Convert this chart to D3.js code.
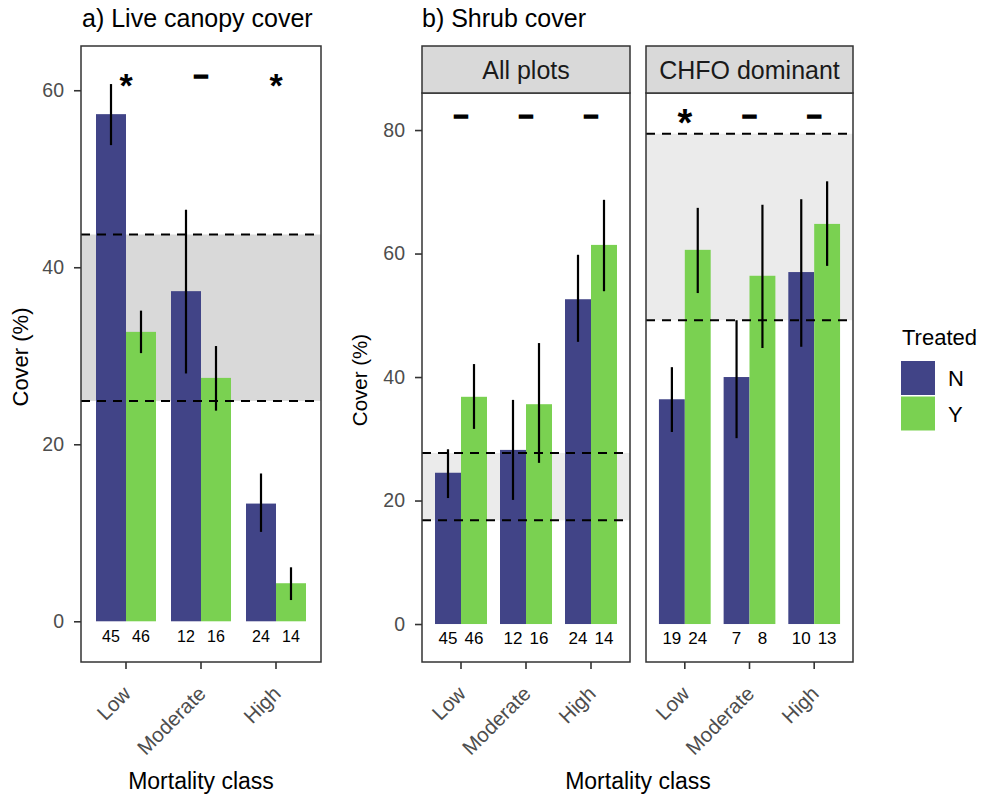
<!DOCTYPE html>
<html>
<head>
<meta charset="utf-8">
<title>Canopy and shrub cover</title>
<script src="https://cdn.jsdelivr.net/npm/d3@7"></script>
<style>
  body { margin: 0; background: #fff; }
  svg { font-family: "Liberation Sans", Arial, sans-serif; }
  .tick text { fill: #4d4d4d; font-size: 19.5px; font-family: "Liberation Sans", Arial, sans-serif; }
  .xaxis .tick text { font-size: 20.5px; }
  .tick line { stroke: #333; stroke-width: 1.6; }
</style>
</head>
<body>
<svg width="989" height="796"></svg>
<script>

// ---- data ----
var classes = ["Low", "Moderate", "High"];
var treated = ["N", "Y"];
var colors = ["#414487", "#7AD151"];

// a) live canopy cover
var canopyN = [57.3, 37.3, 13.3], canopyY = [32.7, 27.5, 4.3];
var canopyNlo = [53.8, 28.0, 10.1], canopyNhi = [60.7, 46.5, 16.7];
var canopyYlo = [30.3, 23.8, 2.4], canopyYhi = [35.1, 31.1, 6.1];
var canopyCountN = [45, 12, 24], canopyCountY = [46, 16, 14];
var canopySig = ["*", "-", "*"];
var canopyBand = [24.9, 43.7];
var canopyTicks = [0, 20, 40, 60];

// b) shrub cover
var shrubPanels = ["All plots", "CHFO dominant"];
var allN = [24.5, 28.2, 52.6], allY = [36.8, 35.6, 61.4];
var allNlo = [20.4, 20.1, 45.7], allNhi = [28.3, 36.3, 59.8];
var allYlo = [31.6, 26.1, 53.9], allYhi = [42.1, 45.5, 68.7];
var allCountN = [45, 12, 24], allCountY = [46, 16, 14];
var allSig = ["-", "-", "-"];
var allBand = [16.8, 27.7];

var chfoN = [36.4, 40.0, 57.0], chfoY = [60.6, 56.4, 64.8];
var chfoNlo = [31.1, 30.1, 44.9], chfoNhi = [41.6, 49.2, 68.8];
var chfoYlo = [53.6, 44.7, 58.0], chfoYhi = [67.4, 67.9, 71.7];
var chfoCountN = [19, 7, 10], chfoCountY = [24, 8, 13];
var chfoSig = ["*", "-", "-"];
var chfoBand = [49.2, 79.4];
var shrubTicks = [0, 20, 40, 60, 80];

function rows(mN, mY, loN, hiN, loY, hiY, cN, cY) {
  var out = [];
  classes.forEach(function(c, i) {
    out.push({cls: c, t: "N", v: mN[i], lo: loN[i], hi: hiN[i], n: cN[i]});
    out.push({cls: c, t: "Y", v: mY[i], lo: loY[i], hi: hiY[i], n: cY[i]});
  });
  return out;
}

var svg = d3.select("svg");
var color = d3.scaleOrdinal().domain(treated).range(colors);

function drawPanel(opt) {
  var g = svg.append("g");
  var x = d3.scaleBand().domain(classes).range([opt.x0, opt.x1]).paddingOuter(0.1);
  var y = d3.scaleLinear().domain(opt.ydom).range([opt.y1, opt.y0]);
  var step = x.step();
  var sub = d3.scaleBand().domain(treated).range([-0.4 * step, 0.4 * step]);
  var cx = function(d) { return x(d) + x.bandwidth() / 2; };
  var bx = function(d) { return cx(d.cls) + sub(d.t) + sub.bandwidth() / 2; };

  // reference band
  g.append("rect")
      .attr("x", opt.x0).attr("width", opt.x1 - opt.x0)
      .attr("y", y(opt.band[1])).attr("height", y(opt.band[0]) - y(opt.band[1]))
      .attr("fill", opt.bandFill);

  // bars
  g.selectAll("rect.bar")
    .data(opt.data)
    .enter().append("rect")
      .attr("class", "bar")
      .attr("x", function(d) { return cx(d.cls) + sub(d.t); })
      .attr("width", sub.bandwidth())
      .attr("y", function(d) { return y(d.v); })
      .attr("height", function(d) { return y(0) - y(d.v); })
      .attr("fill", function(d) { return color(d.t); });

  // dashed lines drawn over the bars
  opt.band.forEach(function(b) {
    g.append("line")
        .attr("x1", opt.x0).attr("x2", opt.x1)
        .attr("y1", y(b)).attr("y2", y(b))
        .attr("stroke", "#000").attr("stroke-width", 2)
        .attr("stroke-dasharray", "9,7");
  });

  // error bars
  g.selectAll("line.err")
    .data(opt.data)
    .enter().append("line")
      .attr("class", "err")
      .attr("x1", bx).attr("x2", bx)
      .attr("y1", function(d) { return y(d.lo); })
      .attr("y2", function(d) { return y(d.hi); })
      .attr("stroke", "#000").attr("stroke-width", 2.2);

  // counts
  g.selectAll("text.count")
    .data(opt.data)
    .enter().append("text")
      .attr("class", "count")
      .attr("x", bx)
      .attr("y", opt.countY)
      .attr("text-anchor", "middle")
      .attr("font-size", opt.countSize)
      .attr("fill", "#000")
      .text(function(d) { return d.n; });

  // significance marks
  g.selectAll("text.sig")
    .data(opt.sig)
    .enter().append("text")
      .attr("class", "sig")
      .attr("x", function(d, i) { return cx(classes[i]); })
      .attr("y", function(d) { return d === "*" ? y(opt.sigY) + opt.starDy : y(opt.sigY) + 8; })
      .attr("text-anchor", "middle")
      .attr("font-size", function(d) { return d === "*" ? opt.starSize : 26; })
      .attr("font-weight", "bold")
      .attr("stroke", "#000")
      .attr("stroke-width", function(d) { return d === "*" ? 0 : 1.6; })
      .text(function(d) { return d === "-" ? "\u2013" : d; });

  // panel border
  g.append("rect")
      .attr("x", opt.x0).attr("y", opt.y0)
      .attr("width", opt.x1 - opt.x0).attr("height", opt.y1 - opt.y0)
      .attr("fill", "none").attr("stroke", "#333").attr("stroke-width", 1.5);

  // x axis
  var xa = g.append("g")
      .attr("class", "xaxis")
      .attr("transform", "translate(0," + opt.y1 + ")")
      .call(d3.axisBottom(x).tickSize(7).tickSizeOuter(0));
  xa.select(".domain").remove();
  xa.selectAll(".tick text")
      .attr("text-anchor", "end")
      .attr("x", 0).attr("y", 0).attr("dy", 0)
      .attr("transform", "translate(6,33) rotate(-45)");

  // strip
  if (opt.strip) {
    g.append("rect")
        .attr("x", opt.x0).attr("y", opt.stripY)
        .attr("width", opt.x1 - opt.x0).attr("height", opt.y0 - opt.stripY)
        .attr("fill", "#d9d9d9").attr("stroke", "#333").attr("stroke-width", 1.5);
    g.append("text")
        .attr("x", (opt.x0 + opt.x1) / 2).attr("y", (opt.stripY + opt.y0) / 2 + 9)
        .attr("text-anchor", "middle").attr("font-size", 25).attr("fill", "#1a1a1a")
        .text(opt.strip);
  }
  return y;
}

// ---- panel a ----
var ya = drawPanel({
  x0: 81, x1: 321, y0: 46, y1: 662, ydom: [-4.6, 65],
  data: rows(canopyN, canopyY, canopyNlo, canopyNhi, canopyYlo, canopyYhi, canopyCountN, canopyCountY),
  band: canopyBand, bandFill: "#d9d9d9", sig: canopySig, sigY: 61.6, starDy: 21, starSize: 34,
  countY: 642, countSize: 16
});
var ax = svg.append("g").attr("transform", "translate(81,0)")
    .call(d3.axisLeft(ya).tickValues(canopyTicks).tickSize(7).tickPadding(10));
ax.select(".domain").remove();

// ---- panel b ----
var yb = drawPanel({
  x0: 422, x1: 630, y0: 93, y1: 662, ydom: [-6.15, 86], stripY: 46, strip: shrubPanels[0],
  data: rows(allN, allY, allNlo, allNhi, allYlo, allYhi, allCountN, allCountY),
  band: allBand, bandFill: "#ebebeb", sig: allSig, sigY: 82.3, starDy: 20, starSize: 38,
  countY: 644, countSize: 17
});
drawPanel({
  x0: 646, x1: 853, y0: 93, y1: 662, ydom: [-6.15, 86], stripY: 46, strip: shrubPanels[1],
  data: rows(chfoN, chfoY, chfoNlo, chfoNhi, chfoYlo, chfoYhi, chfoCountN, chfoCountY),
  band: chfoBand, bandFill: "#ebebeb", sig: chfoSig, sigY: 82.3, starDy: 20, starSize: 38,
  countY: 644, countSize: 17
});
var bx = svg.append("g").attr("transform", "translate(422,0)")
    .call(d3.axisLeft(yb).tickValues(shrubTicks).tickSize(7).tickPadding(10));
bx.select(".domain").remove();

// ---- titles ----
svg.append("text").attr("x", 82).attr("y", 27).attr("font-size", 25).text("a) Live canopy cover");
svg.append("text").attr("x", 422).attr("y", 27).attr("font-size", 25).text("b) Shrub cover");

svg.append("text")
    .attr("transform", "translate(28,357) rotate(-90)")
    .attr("text-anchor", "middle").attr("font-size", 22).text("Cover (%)");
svg.append("text")
    .attr("transform", "translate(367,380) rotate(-90)")
    .attr("text-anchor", "middle").attr("font-size", 20.5).text("Cover (%)");

svg.append("text").attr("x", 201).attr("y", 789).attr("text-anchor", "middle")
    .attr("font-size", 23).text("Mortality class");
svg.append("text").attr("x", 638).attr("y", 789).attr("text-anchor", "middle")
    .attr("font-size", 23).text("Mortality class");

// ---- legend ----
var lg = svg.append("g").attr("transform", "translate(901,0)");
lg.append("text").attr("x", 1).attr("y", 345).attr("font-size", 22).text("Treated");
lg.selectAll("rect").data(treated).enter().append("rect")
    .attr("x", 0).attr("y", function(d, i) { return 361 + i * 35.5; })
    .attr("width", 34).attr("height", 34)
    .attr("fill", function(d) { return color(d); });
lg.selectAll("text.key").data(treated).enter().append("text")
    .attr("class", "key")
    .attr("x", 47).attr("y", function(d, i) { return 386 + i * 35.5; })
    .attr("font-size", 22).text(function(d) { return d; });

</script>
</body>
</html>
